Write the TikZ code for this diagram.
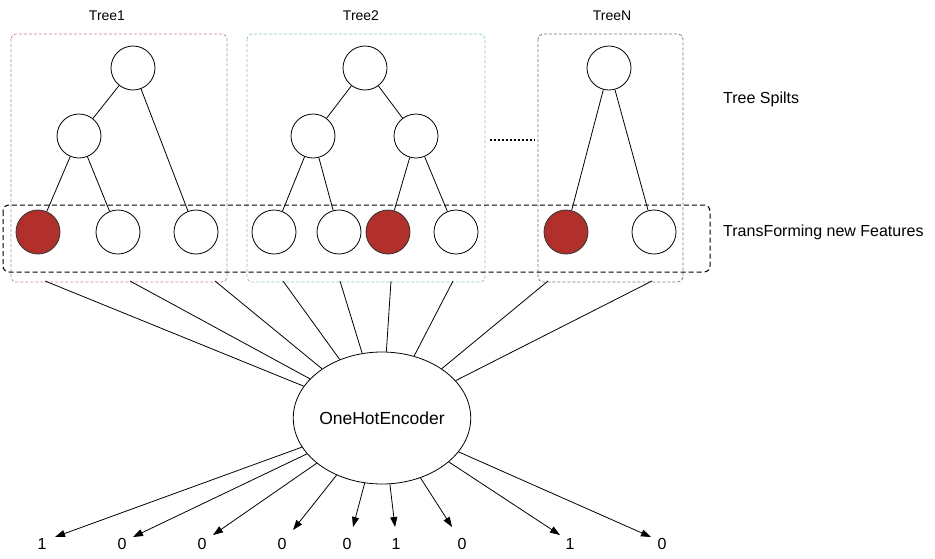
\documentclass[tikz,border=0pt]{standalone}
\usepackage{fontspec}
\setmainfont{Liberation Sans}
\usetikzlibrary{arrows.meta,shapes.geometric}
\definecolor{leafred}{RGB}{178,48,44}
\definecolor{boxone}{RGB}{190,140,140}
\definecolor{boxtwo}{RGB}{140,200,180}
\definecolor{boxn}{RGB}{120,120,120}
\tikzset{
  tnode/.style={circle,draw=black,line width=0.8pt,fill=white,minimum size=44pt,inner sep=0pt},
  hot/.style={tnode,fill=leafred,draw=black!80},
  tedge/.style={line width=0.8pt},
  treebox/.style={dash pattern=on 3pt off 2pt,line width=0.8pt,rounded corners=5pt},
  featbox/.style={dash pattern=on 5pt off 3pt,line width=1pt,rounded corners=6pt,draw=black},
  lbl/.style={font=\fontsize{14}{16}\selectfont,inner sep=0pt},
  side/.style={font=\fontsize{16}{19}\selectfont,inner sep=0pt,anchor=west},
  digit/.style={font=\fontsize{16}{19}\selectfont,inner sep=0pt},
  outarrow/.style={line width=0.8pt,-{Triangle[length=10pt,width=7pt]}},
}
\begin{document}
\begin{tikzpicture}[x=1pt,y=-1pt]
\useasboundingbox (0,0) rectangle (935,558);
% boxes
\draw[treebox,draw=boxone] (11,34) rectangle (227,282);
\draw[treebox,draw=boxtwo] (247,34) rectangle (485,282);
\draw[treebox,draw=boxn] (538,34) rectangle (683,282);
\draw[featbox] (3,205) rectangle (710,272);
\draw[line width=1.2pt,dash pattern=on 2pt off 2pt] (490,140) -- (535,140);
% labels
\node[lbl] (l1) at (107,16) {Tree1};
\node[lbl] (l2) at (361,16) {Tree2};
\node[lbl] (ln) at (612,16) {TreeN};
\node[side] (ts) at (723,99) {Tree Spilts};
\node[side] (tf) at (723,232) {TransForming new Features};
% tree 1
\node[tnode] (a0) at (133,68) {};
\node[tnode] (a1) at (79,136) {};
\node[hot] (a2) at (38,232) {};
\node[tnode] (a3) at (118,232) {};
\node[tnode] (a4) at (196,232) {};
\draw[tedge] (a0) -- (a1); \draw[tedge] (a0) -- (a4);
\draw[tedge] (a1) -- (a2); \draw[tedge] (a1) -- (a3);
% tree 2
\node[tnode] (b0) at (365,68) {};
\node[tnode] (b1) at (313,136) {};
\node[tnode] (b2) at (416,136) {};
\node[tnode] (b3) at (274,232) {};
\node[tnode] (b4) at (339,232) {};
\node[hot] (b5) at (388,232) {};
\node[tnode] (b6) at (456,232) {};
\draw[tedge] (b0) -- (b1); \draw[tedge] (b0) -- (b2);
\draw[tedge] (b1) -- (b3); \draw[tedge] (b1) -- (b4);
\draw[tedge] (b2) -- (b5); \draw[tedge] (b2) -- (b6);
% tree N
\node[tnode] (c0) at (609,68) {};
\node[hot] (c1) at (566,232) {};
\node[tnode] (c2) at (654,232) {};
\draw[tedge] (c0) -- (c1); \draw[tedge] (c0) -- (c2);
% encoder
\node[ellipse,draw,line width=0.8pt,fill=white,minimum width=176pt,minimum height=132pt,inner sep=0pt,font=\fontsize{17.5}{20}\selectfont] (enc) at (382,418) {OneHotEncoder};
% inputs
\foreach \i/\x in {1/45,2/130,3/215,4/283,5/340,6/391,7/453,8/548,9/652}{
  \coordinate (s\i) at (\x,281);
  \draw[tedge] (s\i) -- (enc);
}
% outputs
\foreach \i/\tx/\ty/\lx/\v in {1/55/537/42/1,2/133/537/122/0,3/213/535/202/0,4/293/530/282/0,5/353/527/347/0,6/395/527/396/1,7/452/527/462/0,8/560/535/570/1,9/651/537/662/0}{
  \coordinate (t\i) at (\tx,\ty);
  \node[digit] (d\i) at (\lx,544) {\v};
  \draw[outarrow] (enc) -- (t\i);
}
\end{tikzpicture}
\end{document}
